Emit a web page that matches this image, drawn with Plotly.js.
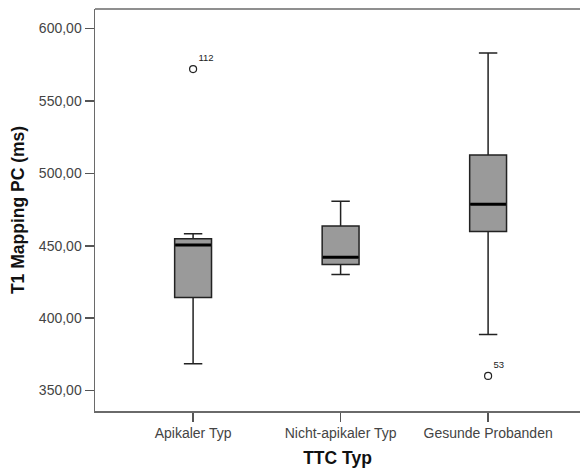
<!DOCTYPE html>
<html>
<head>
<meta charset="utf-8">
<script src="https://cdn.plot.ly/plotly-3.0.1.min.js"></script>
<style>
html,body{margin:0;padding:0;overflow:hidden;background:#fff;}
#chart{width:580px;height:471px;}
</style>
</head>
<body>
<div id="chart"></div>
<script>
// Data
const categories = ["Apikaler Typ", "Nicht-apikaler Typ", "Gesunde Probanden"];
const lowerWhisker = [368.5, 430.2, 388.7];
const q1Values = [414.3, 437.0, 459.9];
const medianValues = [450.6, 442.1, 478.6];
const q3Values = [454.8, 463.6, 512.6];
const upperWhisker = [458.3, 480.7, 583.1];

const outlierCategories = ["Apikaler Typ", "Gesunde Probanden"];
const outlierValues = [572.0, 360.1];
const outlierLabels = ["112", "53"];

const yTickValues = [350, 400, 450, 500, 550, 600];

const boxTrace = {
  type: "box",
  x: categories,
  q1: q1Values,
  median: medianValues,
  q3: q3Values,
  lowerfence: lowerWhisker,
  upperfence: upperWhisker,
  boxpoints: false,
  fillcolor: "#9a9a9a",
  line: {color: "#222222", width: 1.5},
  width: 0.25,
  whiskerwidth: 0.5,
  hoverinfo: "skip",
  showlegend: false
};

const medianTrace = {
  type: "scatter",
  mode: "markers",
  x: categories,
  y: medianValues,
  marker: {symbol: "line-ew", size: 25.5, line: {color: "#000000", width: 3}},
  hoverinfo: "skip",
  showlegend: false
};

const outlierTrace = {
  type: "scatter",
  mode: "markers+text",
  x: outlierCategories,
  y: outlierValues,
  text: outlierLabels,
  textposition: "top right",
  textfont: {family: "Liberation Sans, Arial, sans-serif", size: 9.5, color: "#222"},
  marker: {symbol: "circle-open", size: 7, color: "#222", line: {width: 1.2, color: "#222"}},
  hoverinfo: "skip",
  showlegend: false,
  cliponaxis: false
};

const layout = {
  width: 580,
  height: 471,
  margin: {l: 95, r: 0, t: 9, b: 60},
  paper_bgcolor: "#ffffff",
  plot_bgcolor: "#ffffff",
  separators: ",.",
  font: {family: "Liberation Sans, Arial, sans-serif", size: 14, color: "#444"},
  shapes: [{type: "line", xref: "paper", yref: "paper", x0: 0, x1: 1.02, y0: 1, y1: 1,
            line: {color: "#6a6a6a", width: 1.5}, layer: "above"}],
  xaxis: {
    type: "category",
    range: [-0.665, 2.623],
    showgrid: false,
    zeroline: false,
    showline: true,
    linecolor: "#6a6a6a",
    linewidth: 1.5,
    mirror: false,
    ticks: "outside",
    ticklen: 9,
    tickwidth: 1.5,
    tickcolor: "#555",
    tickfont: {size: 14, color: "#444"},
    title: {text: "TTC Typ", font: {size: 17.5, color: "#111", weight: "bold"}, standoff: 11}
  },
  yaxis: {
    range: [335.9, 613.5],
    tickvals: yTickValues,
    tickformat: ".2f",
    showgrid: false,
    zeroline: false,
    showline: true,
    linecolor: "#6a6a6a",
    linewidth: 1.5,
    mirror: false,
    ticks: "outside",
    ticklen: 9,
    tickwidth: 1.5,
    tickcolor: "#555",
    tickfont: {size: 14, color: "#444"},
    title: {text: "T1 Mapping PC (ms)", font: {size: 17.5, color: "#111", weight: "bold"}, standoff: 9}
  }
};

Plotly.newPlot("chart", [boxTrace, medianTrace, outlierTrace], layout, {displayModeBar: false, staticPlot: true});
</script>
</body>
</html>
